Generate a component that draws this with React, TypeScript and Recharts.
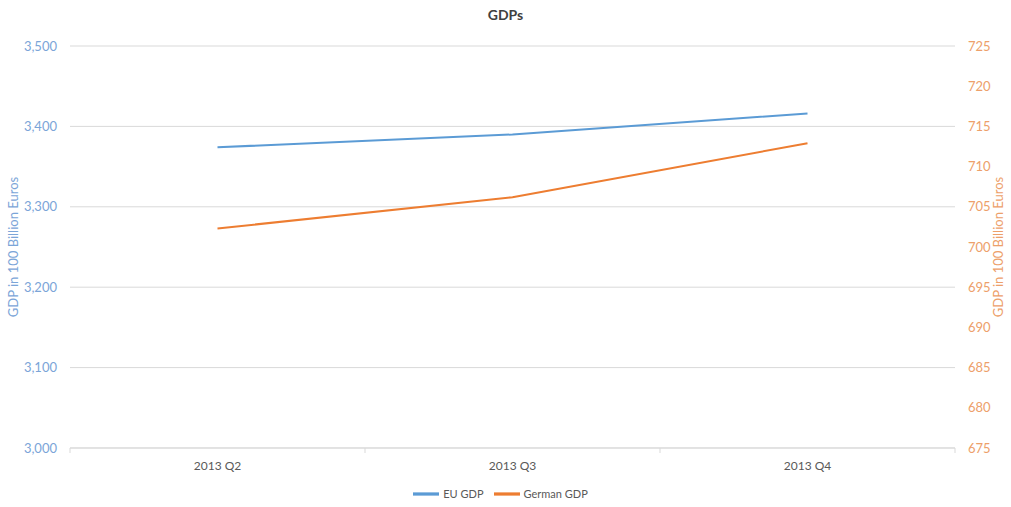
import React from 'react';
import { LineChart, Line, XAxis, YAxis, CartesianGrid, Legend, Label } from 'recharts';

const quarters = ['2013 Q2', '2013 Q3', '2013 Q4'];
const euGdp = [3374, 3390, 3416];
const germanGdp = [702.3, 706.2, 712.9];
const leftTicks = [3000, 3100, 3200, 3300, 3400, 3500];
const rightTicks = [675, 680, 685, 690, 695, 700, 705, 710, 715, 720, 725];

const data = quarters.map((q, i) => ({ quarter: q, eu: euGdp[i], de: germanGdp[i] }));

const W = 1011;
const H = 507;
const LEFT_W = 70;
const RIGHT_W = 56;
const HALF_BAND = (W - LEFT_W - RIGHT_W) / quarters.length / 2;

const BLUE = '#5b9bd5';
const ORANGE = '#ed7d31';
const FONT = 'Lato, sans-serif';

const QuarterTick = (props: any) => {
  const { x, y, payload, index } = props;
  const axisY = y - 8;
  return (
    <g>
      <line x1={x - HALF_BAND} x2={x - HALF_BAND} y1={axisY} y2={axisY + 5} stroke="#d9d9d9" />
      {index === quarters.length - 1 && (
        <line x1={x + HALF_BAND} x2={x + HALF_BAND} y1={axisY} y2={axisY + 5} stroke="#d9d9d9" />
      )}
      <text x={x} y={y} dy={14} textAnchor="middle" fill="#595959" fontSize={12} fontFamily={FONT}>
        {payload.value}
      </text>
    </g>
  );
};

const fmt = (v: number) => v.toLocaleString('en-US');

export default function App() {
  return (
    <div style={{ position: 'absolute', left: 0, top: 0, width: W, height: H, background: '#fff', fontFamily: FONT }}>
      <div
        style={{
          position: 'absolute',
          top: 6,
          left: 0,
          width: W,
          textAlign: 'center',
          fontSize: 14,
          fontWeight: 'bold',
          color: '#404040',
        }}
      >
        GDPs
      </div>
      <LineChart width={W} height={H} data={data} margin={{ top: 46, right: 0, bottom: 0, left: 0 }}>
        <CartesianGrid vertical={false} stroke="#d9d9d9" yAxisId="left" />
        <XAxis
          dataKey="quarter"
          scale="band"
          axisLine={{ stroke: '#d9d9d9' }}
          tickLine={false}
          tickSize={0}
          tickMargin={8}
          height={33}
          tick={<QuarterTick />}
        />
        <YAxis
          yAxisId="left"
          width={LEFT_W}
          domain={[3000, 3500]}
          ticks={leftTicks}
          tickFormatter={fmt}
          axisLine={false}
          tickLine={false}
          tickMargin={7}
          tick={{ fill: '#7ba5d8', fontSize: 13, fontFamily: FONT }}
        >
          <Label
            value="GDP in 100 Billion Euros"
            angle={-90}
            position="insideLeft"
            offset={13}
            style={{ textAnchor: 'middle', fill: '#7ba5d8', fontSize: 13, fontFamily: FONT }}
          />
        </YAxis>
        <YAxis
          yAxisId="right"
          orientation="right"
          width={RIGHT_W}
          domain={[675, 725]}
          ticks={rightTicks}
          axisLine={false}
          tickLine={false}
          tickMargin={7}
          tick={{ fill: '#eda06a', fontSize: 13, fontFamily: FONT }}
        >
          <Label
            value="GDP in 100 Billion Euros"
            angle={-90}
            position="insideRight"
            offset={13}
            style={{ textAnchor: 'middle', fill: '#eda06a', fontSize: 13, fontFamily: FONT }}
          />
        </YAxis>
        <Legend
          verticalAlign="bottom"
          iconType="plainline"
          iconSize={26}
          formatter={(value: string) => (
            <span style={{ color: '#595959', fontSize: 11, fontFamily: FONT }}>{value}</span>
          )}
        />
        <Line
          yAxisId="left"
          type="linear"
          dataKey="eu"
          name="EU GDP"
          stroke={BLUE}
          strokeWidth={2}
          dot={false}
          isAnimationActive={false}
        />
        <Line
          yAxisId="right"
          type="linear"
          dataKey="de"
          name="German GDP"
          stroke={ORANGE}
          strokeWidth={2}
          dot={false}
          isAnimationActive={false}
        />
      </LineChart>
    </div>
  );
}
